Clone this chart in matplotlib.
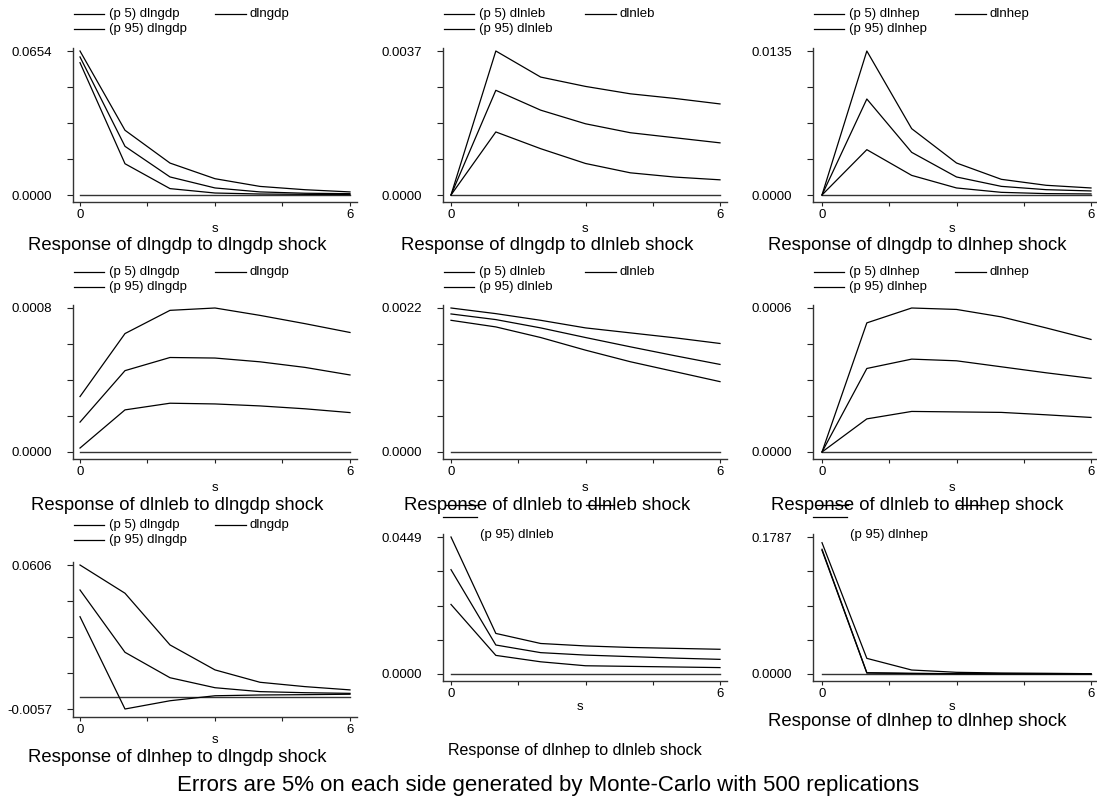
import matplotlib
matplotlib.use("Agg")
import matplotlib.pyplot as plt
from matplotlib.lines import Line2D
import numpy as np

plt.rcParams['font.family'] = ['Liberation Sans', 'DejaVu Sans']

W, H = 1097, 809
steps = [0, 1, 2, 3, 4, 5, 6]
impulses = ['dlngdp', 'dlnleb', 'dlnhep']

# (p 5), irf, (p 95) for each response / impulse pair
gdp_gdp_lo = [0.0601, 0.0142, 0.0029, 0.0009, 0.00045, 0.0003, 0.00015]
gdp_gdp_md = [0.0627, 0.0221, 0.0082, 0.0032, 0.0014, 0.0008, 0.0006]
gdp_gdp_hi = [0.0654, 0.0294, 0.0145, 0.0074, 0.0039, 0.0024, 0.0014]

gdp_leb_lo = [0, 0.00162, 0.00119, 0.00081, 0.00057, 0.00046, 0.00039]
gdp_leb_md = [0, 0.00269, 0.00218, 0.00183, 0.00160, 0.00147, 0.00134]
gdp_leb_hi = [0, 0.0037, 0.00303, 0.00279, 0.00260, 0.00248, 0.00234]

gdp_hep_lo = [0, 0.00425, 0.00184, 0.00066, 0.00025, 0.00013, 0.0001]
gdp_hep_md = [0, 0.0090, 0.0040, 0.00169, 0.00081, 0.0005, 0.00038]
gdp_hep_hi = [0, 0.0135, 0.00622, 0.0030, 0.00147, 0.00091, 0.00066]

leb_gdp_lo = [0.000022, 0.000234, 0.000271, 0.000267, 0.000256, 0.00024, 0.000219]
leb_gdp_md = [0.000166, 0.000452, 0.000525, 0.000522, 0.000501, 0.00047, 0.000428]
leb_gdp_hi = [0.000308, 0.000658, 0.000787, 0.0008, 0.000759, 0.000713, 0.000664]

leb_leb_lo = [0.002012, 0.001911, 0.001749, 0.001556, 0.001379, 0.001227, 0.001075]
leb_leb_md = [0.002109, 0.002023, 0.001896, 0.001749, 0.001607, 0.00147, 0.001338]
leb_leb_hi = [0.0022, 0.002114, 0.002012, 0.001896, 0.00182, 0.001744, 0.001658]

leb_hep_lo = [0, 0.000138, 0.000169, 0.000167, 0.000165, 0.000155, 0.000144]
leb_hep_md = [0, 0.000348, 0.000387, 0.00038, 0.000355, 0.00033, 0.000307]
leb_hep_hi = [0, 0.000538, 0.0006, 0.000594, 0.000563, 0.000517, 0.000469]

hep_gdp_lo = [0.0368, -0.0057, -0.0019, 0.0004, 0.00075, 0.0009, 0.0011]
hep_gdp_md = [0.0491, 0.0204, 0.0087, 0.0041, 0.0023, 0.0018, 0.0015]
hep_gdp_hi = [0.0606, 0.0476, 0.0238, 0.0123, 0.0066, 0.0046, 0.0031]

hep_leb_lo = [0.0228, 0.0061, 0.0040, 0.0027, 0.0025, 0.0023, 0.0021]
hep_leb_md = [0.0342, 0.0095, 0.0070, 0.0062, 0.0057, 0.0052, 0.0048]
hep_leb_hi = [0.0449, 0.0133, 0.0100, 0.0092, 0.0087, 0.0084, 0.0081]

hep_hep_lo = [0.1614, 0.0013, 0.0006, 0.0003, 0.0002, 0.0001, 0.0001]
hep_hep_md = [0.1627, 0.0017, 0.0009, 0.0004, 0.0003, 0.0002, 0.0002]
hep_hep_hi = [0.1713, 0.0204, 0.0052, 0.0022, 0.0013, 0.0009, 0.0004]

# y axis end labels per panel
y_min = [0, 0, 0, 0, 0, 0, -0.0057, 0, 0]
y_max = [0.0654, 0.0037, 0.0135, 0.0008, 0.0022, 0.0006, 0.0606, 0.0449, 0.1787]

titles = ['Response of dlngdp to dlngdp shock', 'Response of dlngdp to dlnleb shock',
          'Response of dlngdp to dlnhep shock', 'Response of dlnleb to dlngdp shock',
          'Response of dlnleb to dlnleb shock', 'Response of dlnleb to dlnhep shock',
          'Response of dlnhep to dlngdp shock', 'Response of dlnhep to dlnleb shock',
          'Response of dlnhep to dlnhep shock']

series = [(gdp_gdp_lo, gdp_gdp_md, gdp_gdp_hi), (gdp_leb_lo, gdp_leb_md, gdp_leb_hi),
          (gdp_hep_lo, gdp_hep_md, gdp_hep_hi), (leb_gdp_lo, leb_gdp_md, leb_gdp_hi),
          (leb_leb_lo, leb_leb_md, leb_leb_hi), (leb_hep_lo, leb_hep_md, leb_hep_hi),
          (hep_gdp_lo, hep_gdp_md, hep_gdp_hi), (hep_leb_lo, hep_leb_md, hep_leb_hi),
          (hep_hep_lo, hep_hep_md, hep_hep_hi)]

# pixel layout (stata graph combine look)
cols = [(73, 80, 350, 357), (443, 451, 720, 727), (813, 822, 1091, 1096)]
rows_px = [(51, 195, 48, 202), (51, 195, 48, 202), (51, 195, 48, 202),
           (308, 452, 305, 459), (308, 452, 305, 459), (308, 452, 305, 459),
           (565, 709, 562, 717), (537, 674, 534, 681), (537, 674, 534, 681)]
title_pos = [(177, 246), (547, 246), (917, 246), (177, 505), (547, 505), (917, 505),
             (177, 757), (575, 750), (917, 722)]
title_size = [13.3] * 7 + [11.5, 13.3]
s_pos = [(215, 229), (585, 229), (952, 229), (215, 488), (585, 488), (952, 488),
         (215, 740), (580, 707), (952, 707)]

def fx(px):
    return px / W

def fy(py):
    return 1 - py / H

def hline(fig, x1, x2, y):
    fig.add_artist(Line2D([fx(x1), fx(x2)], [fy(y), fy(y)], transform=fig.transFigure,
                          color='black', lw=0.9))

fig = plt.figure(figsize=(W / 100, H / 100), dpi=100)

for i in range(9):
    left, x0, x6, right = cols[i % 3]
    ytop, ybot, stop, sbot = rows_px[i]
    ax = fig.add_axes([fx(left), fy(sbot), (right - left) / W, (sbot - stop) / H])
    xs = 6 / (x6 - x0)
    ax.set_xlim(-(x0 - left) * xs, 6 + (right - x6) * xs)
    ys = (y_max[i] - y_min[i]) / (ybot - ytop)
    ax.set_ylim(y_min[i] - (sbot - ybot) * ys, y_max[i] + (ytop - stop) * ys)

    lo, md, hi = series[i]
    ax.plot(steps, [0] * len(steps), color='#333333', lw=1.0)
    for vals in (lo, md, hi):
        ax.plot(steps, vals, color='black', lw=0.9)

    ax.set_yticks(np.linspace(y_min[i], y_max[i], 5))
    ax.set_yticklabels(['%.4f' % y_min[i], '', '', '', '%.4f' % y_max[i]])
    ax.set_xticks([0, 1.5, 3, 4.5, 6])
    ax.set_xticklabels(['0', '', '', '', '6'])
    ax.tick_params(axis='y', length=4.3, width=0.8, pad=10.5, labelsize=9.5, color='#222222')
    ax.tick_params(axis='x', length=3, width=0.8, pad=2, labelsize=9.5, color='#222222')
    for side in ('top', 'right'):
        ax.spines[side].set_visible(False)
    for side in ('left', 'bottom'):
        ax.spines[side].set_color('#333333')
        ax.spines[side].set_linewidth(1.0)

    fig.text(fx(s_pos[i][0]), fy(s_pos[i][1]), 's', ha='center', va='center', fontsize=9.5)
    fig.text(fx(title_pos[i][0]), fy(title_pos[i][1]), titles[i], ha='center', va='center',
             fontsize=title_size[i])

# legends above each panel
legend_rows = [(14, 29), (14, 29), (14, 29), (272, 287), (272, 287), (272, 287), (525, 540)]
for i, (r1, r2) in enumerate(legend_rows):
    off = 370 * (i % 3)
    name = impulses[i % 3]
    hline(fig, 74 + off, 104 + off, r1)
    fig.text(fx(109 + off), fy(r1), '(p 5) ' + name, ha='left', va='center', fontsize=9.5)
    hline(fig, 215 + off, 246 + off, r1)
    fig.text(fx(250 + off), fy(r1), name, ha='left', va='center', fontsize=9.5)
    hline(fig, 74 + off, 104 + off, r2)
    fig.text(fx(109 + off), fy(r2), '(p 95) ' + name, ha='left', va='center', fontsize=9.5)

# squeezed legends of the last two panels (their lines run through the titles above)
for j, off in enumerate([0, 370]):
    name = impulses[j + 1]
    hline(fig, 445 + off, 478 + off, 505)
    hline(fig, 586 + off, 614 + off, 505)
    hline(fig, 443 + off, 477 + off, 517)
    fig.text(fx(480 + off), fy(535), '(p 95) ' + name, ha='left', va='center', fontsize=9.5)

fig.text(fx(548), fy(785), 'Errors are 5% on each side generated by Monte-Carlo with 500 replications',
         ha='center', va='center', fontsize=16)

fig.savefig('out.png', dpi=100)
